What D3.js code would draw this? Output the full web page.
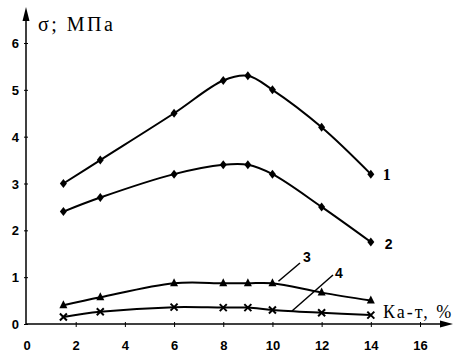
<!DOCTYPE html>
<html><head><meta charset="utf-8">
<script src="https://cdn.jsdelivr.net/npm/d3@7"></script>
<style>body{margin:0;background:#fff}svg{display:block}</style>
</head><body>
<svg id="c" width="454" height="355"></svg>
<script>
const xValues = [1.5, 3, 6, 8, 9, 10, 12, 14];
const series1 = [3.0, 3.5, 4.5, 5.2, 5.3, 5.0, 4.2, 3.2];
const series2 = [2.4, 2.7, 3.2, 3.4, 3.4, 3.2, 2.5, 1.75];
const series3 = [0.4, 0.57, 0.87, 0.87, 0.87, 0.87, 0.67, 0.5];
const series4 = [0.15, 0.26, 0.36, 0.35, 0.35, 0.3, 0.24, 0.19];
const xTicks = [0, 2, 4, 6, 8, 10, 12, 14, 16];
const yTicks = [0, 1, 2, 3, 4, 5, 6];
const seriesLabels = ["1", "2", "3", "4"];

const svg = d3.select("#c");
const x = d3.scaleLinear().domain([0, 16]).range([26.5, 420]);
const y = d3.scaleLinear().domain([0, 6]).range([324, 43]);

// axes lines
svg.append("line").attr("x1", 26).attr("x2", 446).attr("y1", y(0)).attr("y2", y(0)).attr("stroke", "#000").attr("stroke-width", 1.5);
svg.append("path").attr("d", `M453,${y(0)} L440,${y(0)-3.5} L440,${y(0)+3.5}Z`).attr("fill", "#000");
svg.append("line").attr("x1", 26).attr("x2", 26).attr("y1", y(0)).attr("y2", 18).attr("stroke", "#000").attr("stroke-width", 1.5);
svg.append("path").attr("d", `M26,7 L22.5,21 L29.5,21Z`).attr("fill", "#000");

const fmt = d3.format("d");
// x ticks
const xAxis = d3.axisBottom(x).tickValues(xTicks).tickFormat(fmt).tickSize(0).tickPadding(0);
const gx = svg.append("g").attr("transform", `translate(0,${y(0)})`).call(xAxis);
gx.select(".domain").remove();
gx.selectAll(".tick line").remove();
gx.selectAll(".tick").append("line").attr("y1", -2).attr("y2", 3).attr("stroke", "#000");
gx.selectAll(".tick text").attr("y", 21).attr("dy", "0.35em")
  .attr("font-family", "Liberation Sans, Arial, sans-serif").attr("font-weight", "bold").attr("font-size", 13).attr("fill", "#000");
gx.selectAll(".tick").filter(d => d === 0).select("line").remove();

// y ticks
const yAxis = d3.axisLeft(y).tickValues(yTicks).tickFormat(fmt).tickSize(0).tickPadding(0);
const gy = svg.append("g").attr("transform", `translate(26,0)`).call(yAxis);
gy.select(".domain").remove();
gy.selectAll(".tick line").remove();
gy.selectAll(".tick").append("line").attr("x1", -2).attr("x2", 2).attr("stroke", "#000");
gy.selectAll(".tick text").attr("x", -7).attr("dy", "0.35em")
  .attr("font-family", "Liberation Sans, Arial, sans-serif").attr("font-weight", "bold").attr("font-size", 13).attr("fill", "#000");

// lines
const line = d3.line().x((d, i) => x(xValues[i])).y(d => y(d)).curve(d3.curveCatmullRom.alpha(0.5));
const allSeries = [series1, series2, series3, series4];
allSeries.forEach(s => {
  svg.append("path").datum(s).attr("d", line).attr("fill", "none").attr("stroke", "#000").attr("stroke-width", 2);
});

// markers
const diamond = (cx, cy) => `M${cx},${cy-4.5}L${cx+3.5},${cy}L${cx},${cy+4.5}L${cx-3.5},${cy}Z`;
[series1, series2].forEach(s => {
  svg.append("g").selectAll("path").data(s).join("path")
    .attr("d", (d, i) => diamond(x(xValues[i]), y(d))).attr("fill", "#000");
});
svg.append("g").selectAll("path").data(series3).join("path")
  .attr("d", (d, i) => { const cx = x(xValues[i]), cy = y(d); return `M${cx},${cy-5}L${cx+4},${cy+3}L${cx-4},${cy+3}Z`; })
  .attr("fill", "#000");
svg.append("g").selectAll("path").data(series4).join("path")
  .attr("d", (d, i) => { const cx = x(xValues[i]), cy = y(d); return `M${cx-3.5},${cy-3.5}L${cx+3.5},${cy+3.5}M${cx+3.5},${cy-3.5}L${cx-3.5},${cy+3.5}`; })
  .attr("stroke", "#000").attr("stroke-width", 2).attr("fill", "none");

// series labels
const last = xValues.length - 1;
svg.append("text").attr("x", x(xValues[last]) + 12).attr("y", y(series1[last]) + 6).text(seriesLabels[0])
  .attr("font-family", "Liberation Serif, Times New Roman, serif").attr("font-weight", "bold").attr("font-size", 16);
svg.append("text").attr("x", x(xValues[last]) + 14).attr("y", y(series2[last]) + 7).text(seriesLabels[1])
  .attr("font-family", "Liberation Sans, Arial, sans-serif").attr("font-weight", "bold").attr("font-size", 14);
// label 3 with leader
svg.append("line").attr("x1", x(10) + 6).attr("y1", y(series3[5]) - 2).attr("x2", 300).attr("y2", 263).attr("stroke", "#000").attr("stroke-width", 1.5);
svg.append("text").attr("x", 303).attr("y", 262).text(seriesLabels[2])
  .attr("font-family", "Liberation Sans, Arial, sans-serif").attr("font-weight", "bold").attr("font-size", 14);
svg.append("line").attr("x1", 292).attr("y1", 311).attr("x2", 333).attr("y2", 275).attr("stroke", "#000").attr("stroke-width", 1.5);
svg.append("text").attr("x", 335).attr("y", 278).text(seriesLabels[3])
  .attr("font-family", "Liberation Sans, Arial, sans-serif").attr("font-weight", "bold").attr("font-size", 14);

// axis titles
svg.append("text").attr("x", 38).attr("y", 31).text("σ; МПа")
  .attr("font-family", "Liberation Serif, Times New Roman, serif").attr("font-size", 20).attr("letter-spacing", 2.5);
svg.append("text").attr("x", 383).attr("y", 318).text("Ка-т, %")
  .attr("font-family", "Liberation Serif, Times New Roman, serif").attr("font-size", 18).attr("letter-spacing", 2);
</script>
</body></html>
